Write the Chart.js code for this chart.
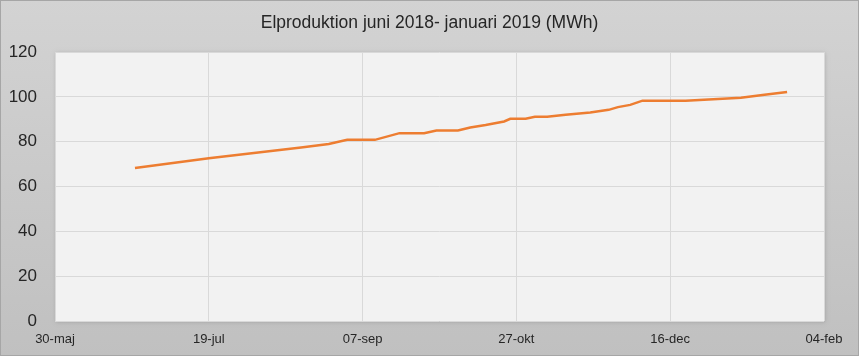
<!DOCTYPE html>
<html>
<head>
<meta charset="utf-8">
<script src="https://cdn.jsdelivr.net/npm/chart.js@4.4.1/dist/chart.umd.min.js"></script>
<style>
html,body{margin:0;padding:0;background:#fff;}
#wrap{width:859px;height:356px;position:relative;}
</style>
</head>
<body>
<div id="wrap"><canvas id="c" width="859" height="356"></canvas></div>
<script>
const chartTitle = "Elproduktion juni 2018- januari 2019 (MWh)";
const dates = ["2018-06-25","2018-07-19","2018-08-18","2018-08-27","2018-09-02","2018-09-11","2018-09-19","2018-09-27","2018-10-01","2018-10-08","2018-10-12","2018-10-17","2018-10-20","2018-10-23","2018-10-25","2018-10-30","2018-11-02","2018-11-06","2018-11-12","2018-11-20","2018-11-26","2018-11-29","2018-12-03","2018-12-07","2018-12-21","2019-01-08","2019-01-15","2019-01-23"];
const values = [68.3,72.6,77.4,79.0,80.8,80.8,83.8,83.8,85.0,85.0,86.3,87.4,88.2,89.0,90.2,90.2,91.1,91.1,92.0,93.0,94.2,95.4,96.4,98.3,98.3,99.6,100.8,102.2];
const xTickLabels = ["30-maj","19-jul","07-sep","27-okt","16-dec","04-feb"];
const yTickValues = [0,20,40,60,80,100,120];
const xOrigin = "2018-05-30";
const xStepDays = 50;

const dayNum = d => Math.round((Date.parse(d) - Date.parse(xOrigin)) / 86400000);
const points = dates.map((d, i) => ({x: dayNum(d), y: values[i]}));

const bgPlugin = {
  id: 'bg',
  beforeDraw(chart) {
    const {ctx, width, height, chartArea: a} = chart;
    ctx.save();
    const g = ctx.createLinearGradient(0, 0, 0, height);
    g.addColorStop(0, '#d3d3d3');
    g.addColorStop(1, '#c0c0c0');
    ctx.fillStyle = g;
    ctx.fillRect(0, 0, width, height);
    ctx.strokeStyle = '#a6a6a6';
    ctx.lineWidth = 1;
    ctx.strokeRect(0.5, 0.5, width - 1, height - 1);
    ctx.shadowColor = 'rgba(0,0,0,0.18)';
    ctx.shadowBlur = 4;
    ctx.shadowOffsetX = 1;
    ctx.shadowOffsetY = 1;
    ctx.fillStyle = '#f2f2f2';
    ctx.fillRect(a.left, a.top, a.right - a.left, a.bottom - a.top);
    ctx.restore();
  }
};

new Chart(document.getElementById('c'), {
  type: 'line',
  data: {
    datasets: [{
      data: points,
      borderColor: '#ED7D31',
      borderWidth: 2.5,
      pointRadius: 0,
      tension: 0,
      fill: false
    }]
  },
  options: {
    responsive: false,
    animation: false,
    events: [],
    layout: {padding: 0},
    plugins: {
      legend: {display: false},
      tooltip: {enabled: false},
      title: {
        display: true,
        text: chartTitle,
        color: '#262626',
        font: {family: 'Liberation Sans', size: 17.5, weight: 'normal'},
        padding: {top: 13, bottom: 18}
      }
    },
    scales: {
      x: {
        type: 'linear',
        min: 0,
        max: xStepDays * (xTickLabels.length - 1),
        afterFit: s => { s.height = 35; },
        ticks: {
          stepSize: xStepDays,
          autoSkip: false,
          maxRotation: 0,
          padding: 11,
          color: '#262626',
          font: {family: 'Liberation Sans', size: 13},
          callback: (v, i) => xTickLabels[i]
        },
        grid: {color: '#d9d9d9', lineWidth: 1, drawTicks: false},
        border: {display: false}
      },
      y: {
        min: yTickValues[0],
        max: yTickValues[yTickValues.length - 1],
        afterFit: s => { s.width = 55; },
        ticks: {
          stepSize: 20,
          padding: 18,
          color: '#262626',
          font: {family: 'Liberation Sans', size: 17}
        },
        grid: {color: '#d9d9d9', lineWidth: 1, drawTicks: false},
        border: {display: false}
      },
      yr: {
        position: 'right',
        min: 0,
        max: 1,
        afterFit: s => { s.width = 35; },
        ticks: {display: false},
        grid: {display: false, drawTicks: false},
        border: {display: false}
      }
    }
  },
  plugins: [bgPlugin]
});
</script>
</body>
</html>
